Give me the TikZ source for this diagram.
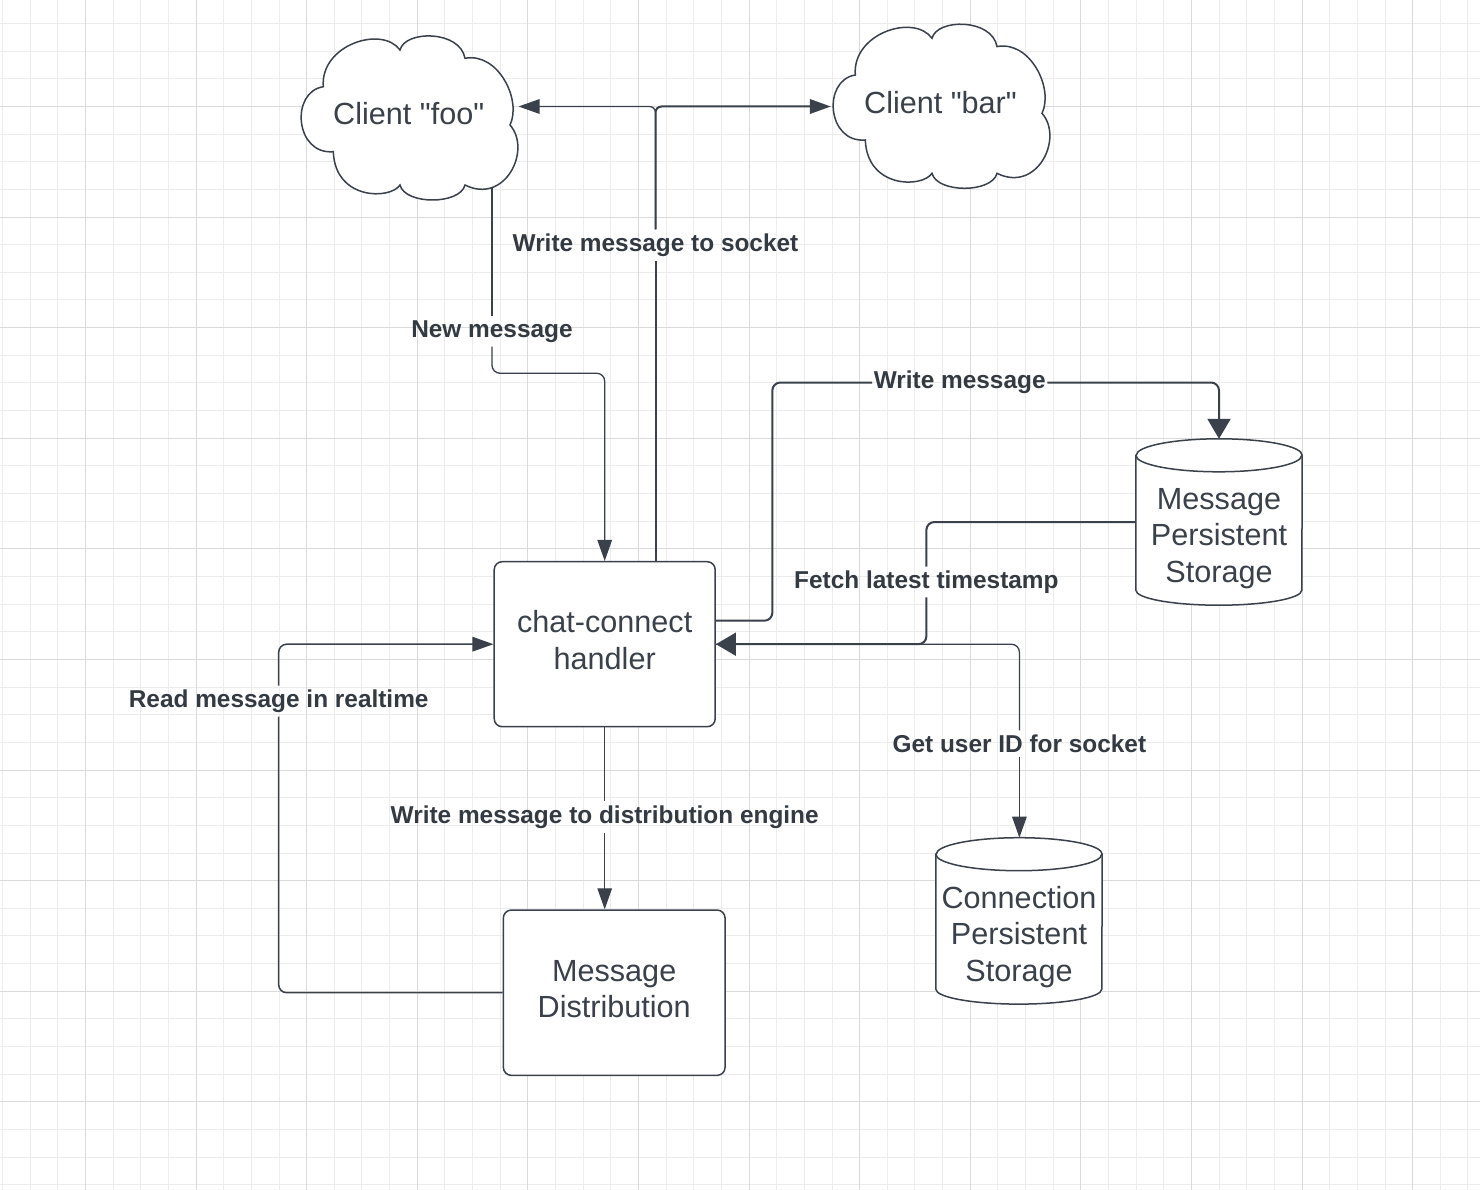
\documentclass[tikz,border=0pt]{standalone}
\usepackage{fontspec}
\setmainfont{Liberation Sans}[Ligatures=TeXOff]
\usetikzlibrary{arrows.meta,calc}
\definecolor{linec}{HTML}{3A414A}
\definecolor{textc}{HTML}{3A414A}
\definecolor{labc}{HTML}{333A42}
\definecolor{gridminor}{HTML}{ECECEC}
\definecolor{gridmajor}{HTML}{DADADA}
\newcommand\drawcloud[2]{%
  \begin{scope}[shift={(#1,#2)}]
    \filldraw[shapeline,fill=white] (323.3,86.7)
      .. controls (320,45) and (382,25) .. (400,50)
      .. controls (405,30) and (460,30) .. (465,58.3)
      .. controls (498,52) and (522,100) .. (510,125)
      .. controls (532,150) and (505,205) .. (465,185)
      .. controls (460,205) and (405,205) .. (400,185)
      .. controls (390,200) and (335,200) .. (333.3,151.7)
      .. controls (295,155) and (290,92) .. (323.3,86.7) -- cycle;
  \end{scope}}
\newcommand\drawcyl[1]{%
  \filldraw[shapeline,fill=white] ([yshift=-16.5pt]#1.north west) -- ([yshift=15pt]#1.south west)
    arc[start angle=180,end angle=360,x radius=83pt,y radius=15pt]
    -- ([yshift=-16.5pt]#1.north east)
    arc[start angle=0,end angle=180,x radius=83pt,y radius=16.5pt] -- cycle;
  \draw[shapeline] ([yshift=-16.5pt]#1.north west)
    arc[start angle=180,end angle=360,x radius=83pt,y radius=16.5pt];}
\tikzset{
  shapeline/.style={draw=linec,line width=1.5pt},
  boxnode/.style={shapeline,fill=white,rounded corners=8pt,inner sep=0pt,
    minimum width=221pt,minimum height=165pt},
  cylnode/.style={draw=none,inner sep=0pt,minimum width=166pt,minimum height=166pt},
  maintext/.style={font=\fontsize{30.6}{36.6}\selectfont,text=textc,align=center,inner sep=0pt},
  cloudnode/.style={maintext,minimum height=149.4pt},
  lab/.style={font=\fontsize{24.4}{29}\selectfont\bfseries,text=labc,inner xsep=1.5pt,inner ysep=3.9pt},
  thinline/.style={draw=linec,line width=1.3pt,rounded corners=8pt},
  thickline/.style={draw=linec,line width=2pt,rounded corners=8pt},
  smallarrow/.style={-{Triangle[length=21pt,width=14.5pt]}},
  bigarrow/.style={-{Triangle[length=20pt,width=23pt]}},
}
\begin{document}
\begin{tikzpicture}[x=1pt,y=-1pt]
\useasboundingbox (0,0) rectangle (1480,1190);
\fill[white] (0,0) rectangle (1480,1190);
% grid
\foreach \i in {0,...,53} {
  \draw[gridminor,line width=1pt] ({2.5+27.65*\i},0) -- ({2.5+27.65*\i},1190);
}
\foreach \i in {0,...,42} {
  \draw[gridminor,line width=1pt] (0,{23.5+27.65*\i}) -- (1480,{23.5+27.65*\i});
}
\foreach \i in {0,...,13} {
  \draw[gridmajor,line width=1pt] ({85.45+110.6*\i},0) -- ({85.45+110.6*\i},1190);
}
\foreach \i in {0,...,10} {
  \draw[gridmajor,line width=1pt] (0,{106.45+110.6*\i}) -- (1480,{106.45+110.6*\i});
}
% clouds
\drawcloud{0}{0}
\drawcloud{532}{-11.7}
\node[cloudnode,minimum width=219.2pt] (foo) at (408.7,113.5) {Client "foo"};
\node[cloudnode,minimum width=219pt] (bar) at (940.5,102.7) {Client "bar"};
% boxes
\node[boxnode] (handler) at (604.7,644.2) {};
\node[maintext] at (604.7,639.8) {chat-connect\\handler};
\node[boxnode,minimum width=221.7pt,minimum height=165.3pt] (md) at (614.2,992.7) {};
\node[maintext] at (614.2,989) {Message\\Distribution};
% cylinders
\node[cylnode] (msgstore) at (1219,522) {};
\drawcyl{msgstore}
\node[maintext] at (1219,538.5) {Message\\Persistent\\Storage};
\node[cylnode] (connstore) at (1019,920.9) {};
\drawcyl{connstore}
\node[maintext] at (1019,936.8) {Connection\\Persistent\\Storage};
% labels
\node[lab] (newlab) at (492,331.5) {New message};
\node[lab] (socklab) at (655.5,245) {Write message to socket};
\node[lab] (wmlab) at (959.7,382.5) {Write message};
\node[lab] (fetchlab) at (926.4,582) {Fetch latest timestamp};
\node[lab] (getlab) at (1019.4,743.5) {Get user ID for socket};
\node[lab] (distlab) at (604.7,817) {Write message to distribution engine};
\node[lab] (readlab) at (278.7,701.2) {Read message in realtime};
% connectors
\draw[thinline] ([xshift=83.3pt]foo.south) -- (newlab);
\draw[thinline,smallarrow] (newlab) |- ([yshift=187.7pt]handler.north) -- (handler.north);
\draw[thickline] ([xshift=50.8pt]handler.north) -- (socklab);
\draw[thinline,smallarrow,rounded corners=6pt] (socklab) |- ([yshift=7pt]foo.east);
\draw[thickline,smallarrow,rounded corners=6pt] (socklab) |- ([yshift=-3.8pt]bar.west);
\draw[thickline] ([yshift=23.5pt]handler.east) -- ++(56.4,0) |- (wmlab);
\draw[thickline,bigarrow] (wmlab) -| (msgstore.north);
\draw[thickline] (msgstore.west) -| (fetchlab);
\draw[thickline,bigarrow] (fetchlab) |- (handler.east);
\draw[thinline] (handler.east) -| (getlab);
\draw[thinline,smallarrow] (getlab) -- (getlab |- connstore.north);
\draw[thinline] (handler.south) -- (distlab);
\draw[thinline,smallarrow] (distlab) -- (distlab |- md.north);
\draw[thinline,line width=1.5pt] (md.west) -| (readlab);
\draw[thinline,line width=1.5pt,smallarrow] (readlab) |- (handler.west);
\end{tikzpicture}
\end{document}
